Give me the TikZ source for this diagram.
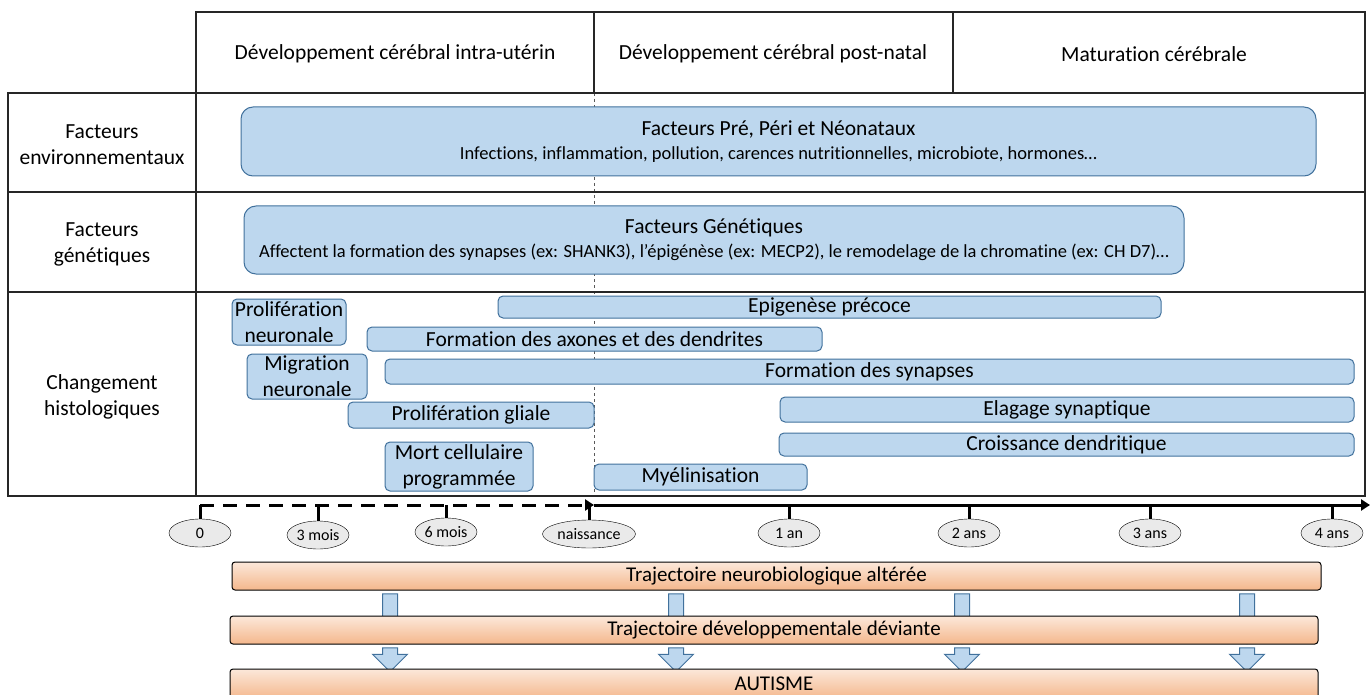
\documentclass[tikz,border=0pt]{standalone}
\usepackage{fontspec}
\setmainfont{Carlito}[Ligatures=NoCommon]
\usetikzlibrary{arrows.meta, shapes.geometric, shapes.arrows}

\definecolor{barfill}{RGB}{189,215,238}
\definecolor{barline}{RGB}{65,113,156}
\definecolor{datefill}{RGB}{234,234,234}
\definecolor{trajtop}{RGB}{252,232,218}
\definecolor{trajbot}{RGB}{244,183,140}

\begin{document}
\begin{tikzpicture}[x=1pt, y=-1pt,
  phase/.style={draw=barline, fill=barfill, rounded corners=5pt, line width=1pt, inner sep=0pt, font=\fontsize{21.5}{26}\selectfont, align=center},
  facteur/.style={phase, rounded corners=12pt},
  rowtitle/.style={font=\fontsize{21.5}{26}\selectfont, align=center},
  jalon/.style={ellipse, draw, fill=datefill, minimum width=62pt, minimum height=28pt, inner sep=0pt, font=\fontsize{16}{18}\selectfont},
  traj/.style={draw, line width=1pt, rounded corners=3pt, top color=trajtop, bottom color=trajbot, minimum height=28pt, inner sep=0pt, font=\fontsize{21}{24}\selectfont},
  fleche/.style={single arrow, shape border rotate=270, draw=barline, fill=barfill, line width=1pt, inner sep=7pt, minimum width=34pt, single arrow head extend=10pt, minimum height=24pt},
  axe/.style={line width=3pt, black}]

\clip (0,0) rectangle (1371,695);

%Tableau:
\draw [dashed, gray!70!black, thin] (594,93) -- (594,496);
\draw [line width=1.2pt, black!85] (196,12) rectangle (1365,93)
  (594,12) -- (594,93) (953,12) -- (953,93);
\draw [line width=1.2pt, black!85] (8,93) rectangle (1365,496)
  (8,192) -- (1365,192) (8,292) -- (1365,292) (196,93) -- (196,496);

\node (H1) [rowtitle] at (395,54) {Développement cérébral intra-utérin};
\node (H2) [rowtitle] at (773,54) {Développement cérébral post-natal};
\node (H3) [rowtitle] at (1154,54) {Maturation cérébrale};
\node (R1) [rowtitle] at (102,145) {Facteurs\\environnementaux};
\node (R2) [rowtitle] at (102,244) {Facteurs\\génétiques};
\node (R3) [rowtitle] at (102,397) {Changement\\histologiques};

%Facteurs:
\node (ENV) [facteur, minimum width=1075pt, minimum height=69pt] at (778.5,141.5)
  {\fontsize{21.5}{25}\selectfont Facteurs Pré, Péri et Néonataux\\[-2pt]
   \fontsize{18.5}{25}\selectfont Infections, inflammation, pollution, carences nutritionnelles, microbiote, hormones…};
\node (GEN) [facteur, minimum width=940pt, minimum height=68pt] at (714,240)
  {\fontsize{21.5}{25}\selectfont Facteurs Génétiques\\[-2pt]
   \fontsize{18.5}{25}\selectfont Affectent la formation des synapses (ex: SHANK3), l’épigénèse (ex: MECP2), le remodelage de la chromatine (ex: CH D7)…};

%Changements histologiques:
\node (PN) [phase, minimum width=114pt, minimum height=46pt] at (289,322) {Prolifération\\neuronale};
\node (EP) [phase, minimum width=663pt, minimum height=22pt] at (829.5,307) {Epigenèse précoce};
\node (AX) [phase, minimum width=455pt, minimum height=24pt] at (594.5,339) {Formation des axones et des dendrites};
\node (MN) [phase, minimum width=120pt, minimum height=45pt] at (307,376.5) {Migration\\neuronale};
\node (SY) [phase, minimum width=969pt, minimum height=25pt] at (869.5,371.5) {Formation des synapses};
\node (PG) [phase, minimum width=246pt, minimum height=26pt] at (471,415) {Prolifération gliale};
\node (EL) [phase, minimum width=574pt, minimum height=25pt] at (1067,409.5) {Elagage synaptique};
\node (CD) [phase, minimum width=575pt, minimum height=23pt] at (1066.5,444.5) {Croissance dendritique};
\node (MC) [phase, minimum width=148pt, minimum height=49pt] at (459,466.5) {Mort cellulaire\\programmée};
\node (MY) [phase, minimum width=213pt, minimum height=26pt] at (700.5,477) {Myélinisation};

%Axe du temps:
\node (d0) [jalon] at (200,533) {0};
\node (d3m) [jalon] at (318,535) {3 mois};
\node (d6m) [jalon] at (446,532) {6 mois};
\node (dna) [jalon, minimum width=93pt] at (589,534) {naissance};
\node (d1) [jalon] at (789,533) {1 an};
\node (d2) [jalon] at (969,533) {2 ans};
\node (d3) [jalon] at (1150,533) {3 ans};
\node (d4) [jalon] at (1332,533) {4 ans};
\coordinate (t0) at (200,505);
\coordinate (tn) at (594,505);
\coordinate (tf) at (1370,505);

\draw [axe, dash pattern=on 14pt off 9pt, -{Triangle[length=9pt, width=11pt]}] (t0) -- (tn);
\draw [axe, -{Triangle[length=9pt, width=11pt]}] (tn) -- (tf);
\foreach \d in {d0, d3m, d6m, dna, d1, d2, d3, d4}
  \draw [axe] (\d.north |- t0) -- (\d.north);

%Trajectoires:
\node (T1) [traj, minimum width=1089pt] at (776.5,576) {Trajectoire neurobiologique altérée};
\foreach \x [count=\i] in {390, 676, 962, 1247}
  \node (F\i) [fleche, minimum height=50pt] at (\x,615) {};
\node (T2) [traj, minimum width=1088pt] at (774,630) {Trajectoire développementale déviante};
\foreach \x [count=\i] in {390, 676, 962, 1247}
  \node (G\i) [fleche] at (\x,656) {};
\node (T3) [traj, minimum width=1088pt, minimum height=30pt] at (774,684) {AUTISME};

\end{tikzpicture}
\end{document}
